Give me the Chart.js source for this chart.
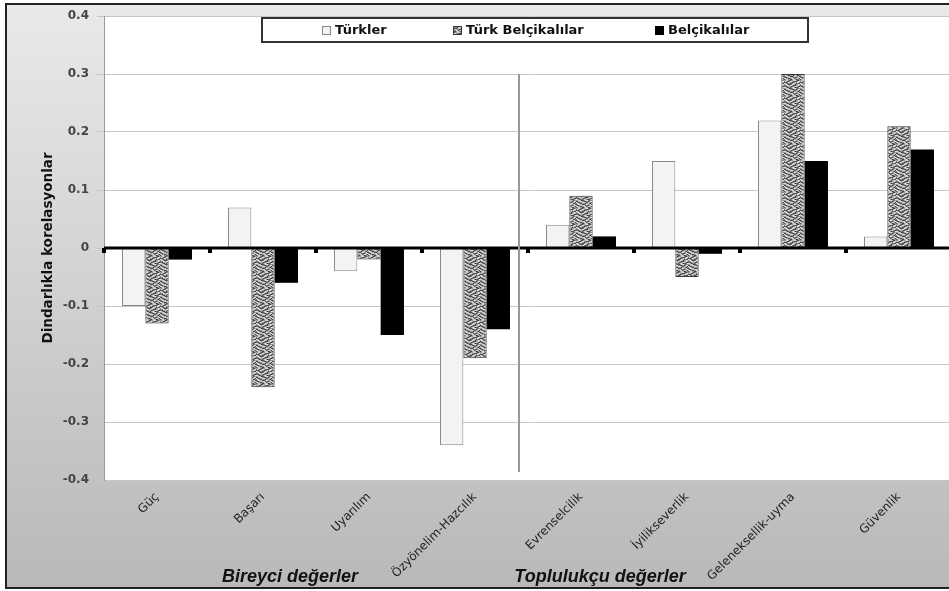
<!DOCTYPE html>
<html>
<head>
<title>Dindarlıkla korelasyonlar</title>
<script src="https://cdn.jsdelivr.net/npm/chart.js@4.4.1/dist/chart.umd.min.js"></script>
<style>
    body {
        margin: 0;
        overflow: hidden;
        background: #fff;
    }

    .frame {
        position: absolute;
        left: 5px;
        top: 3px;
        width: 960px;
        height: 582px;
        border: 2px solid #222;
        background: linear-gradient(#e9e9e9, #b9b9b9);
    }

    .chart {
        position: absolute;
        left: 0;
        top: 0;
        width: 960px;
        height: 591px;
    }
</style>
</head>
<body>
<div class="frame"></div>
<div class="chart">
    <canvas id="corr-chart"></canvas>
</div>

<script>
    const categories = ['Güç', 'Başarı', 'Uyarılım', 'Özyönelim-Hazcılık',
        'Evrenselcilik', 'İyilikseverlik', 'Geleneksellik-uyma', 'Güvenlik'];
    const seriesNames = ['Türkler', 'Türk Belçikalılar', 'Belçikalılar'];
    const turkler = [-0.10, 0.07, -0.04, -0.34, 0.04, 0.15, 0.22, 0.02];
    const turkBelcikalilar = [-0.13, -0.24, -0.02, -0.19, 0.09, -0.05, 0.30, 0.21];
    const belcikalilar = [-0.02, -0.06, -0.15, -0.14, 0.02, -0.01, 0.15, 0.17];
    const yTicks = [-0.4, -0.3, -0.2, -0.1, 0, 0.1, 0.2, 0.3, 0.4];
    const yTitle = 'Dindarlıkla korelasyonlar';
    const groupLabels = ['Bireyci değerler', 'Toplulukçu değerler'];

    // gri desen (Türk Belçikalılar) - sabit bir doku haritası
    const textureMap = [
        '1122100112221001',
        '1210012211000122',
        '0001221100121221',
        '2210110012210100',
        '1221000122101122',
        '0112212210001221',
        '1001121001122100',
        '2210010122100012',
        '1122100012221011',
        '0012221100110122',
        '2100112221001210',
        '1221001110122001',
        '0122120001221120',
        '1001221220100122',
        '2211001122012210',
        '0122110012210011'
    ];
    function makeTexture() {
        const c = document.createElement('canvas');
        c.width = 16;
        c.height = 16;
        const g = c.getContext('2d');
        const shades = ['#4a4a4a', '#979797', '#d6d6d6'];
        textureMap.forEach((row, yy) => {
            for (let xx = 0; xx < row.length; xx++) {
                g.fillStyle = shades[+row[xx]];
                g.fillRect(xx, yy, 1, 1);
            }
        });
        return g.createPattern(c, 'repeat');
    }
    const texture = makeTexture();

    const decor = {
        id: 'decor',
        beforeDraw(chart) {
            const {ctx, chartArea: a} = chart;
            ctx.save();
            ctx.fillStyle = '#fff';
            ctx.fillRect(a.left, a.top, a.right - a.left, a.bottom - a.top);
            ctx.restore();
        },
        afterDatasetsDraw(chart) {
            const {ctx, chartArea: a, scales: {y}} = chart;
            const y0 = y.getPixelForValue(0);
            const catW = (a.right - a.left) / categories.length;
            ctx.save();
            // sıfır çizgisi + küçük işaretler
            ctx.fillStyle = '#000';
            ctx.fillRect(a.left, y0 - 1.5, a.right - a.left, 3);
            for (let i = 0; i <= categories.length; i++) {
                ctx.fillRect(a.left + i * catW - 2, y0, 4, 5);
            }
            // bireyci / toplulukçu ayırıcı
            const sx = a.left + 4 * catW - 9;
            ctx.strokeStyle = '#999';
            ctx.lineWidth = 2;
            ctx.beginPath();
            ctx.moveTo(sx, y.getPixelForValue(0.3));
            ctx.lineTo(sx, a.bottom - 8);
            ctx.stroke();

            // lejant kutusu
            ctx.fillStyle = '#fff';
            ctx.fillRect(262, 18, 546, 24);
            ctx.strokeStyle = '#333';
            ctx.lineWidth = 2;
            ctx.strokeRect(262, 18, 546, 24);
            const markX = [322, 453, 655];
            ctx.font = 'bold 13px "DejaVu Sans"';
            ctx.textBaseline = 'middle';
            chart.data.datasets.forEach((ds, i) => {
                ctx.fillStyle = ds.backgroundColor;
                ctx.fillRect(markX[i], 26, 9, 9);
                ctx.strokeStyle = ds.borderColor;
                ctx.lineWidth = 1;
                ctx.strokeRect(markX[i] + 0.5, 26.5, 8, 8);
                ctx.fillStyle = '#111';
                ctx.fillText(ds.label, markX[i] + 13, 31);
            });

            // grup başlıkları
            ctx.font = 'italic bold 18px "Liberation Sans"';
            ctx.textAlign = 'center';
            ctx.fillStyle = '#111';
            ctx.fillText(groupLabels[0], 290, 577);
            ctx.fillText(groupLabels[1], 600, 577);
            ctx.restore();
        }
    };

    const ctx = document.getElementById('corr-chart').getContext('2d');
    const chart = new Chart(ctx, {
        type: 'bar',
        data: {
            labels: categories,
            datasets: [{
                label: seriesNames[0],
                data: turkler,
                backgroundColor: '#f3f3f5',
                borderColor: '#888',
                borderWidth: 1
            }, {
                label: seriesNames[1],
                data: turkBelcikalilar,
                backgroundColor: texture,
                borderColor: '#3a3a3a',
                borderWidth: 1
            }, {
                label: seriesNames[2],
                data: belcikalilar,
                backgroundColor: '#000',
                borderColor: '#000',
                borderWidth: 0
            }]
        },
        options: {
            responsive: true,
            maintainAspectRatio: false,
            animation: false,
            layout: {
                padding: {top: 16, right: 8, bottom: 0, left: 0}
            },
            datasets: {
                bar: {
                    categoryPercentage: 0.66,
                    barPercentage: 1
                }
            },
            plugins: {
                legend: {display: false},
                tooltip: {enabled: false}
            },
            scales: {
                x: {
                    grid: {display: false, drawTicks: false},
                    border: {display: false},
                    ticks: {
                        autoSkip: false,
                        minRotation: 45,
                        maxRotation: 45,
                        padding: 10,
                        color: '#222',
                        font: {family: 'DejaVu Sans', size: 12}
                    },
                    afterFit(s) {
                        s.height = 111;
                    }
                },
                y: {
                    min: -0.4,
                    max: 0.4,
                    afterBuildTicks(s) {
                        s.ticks = yTicks.map(v => ({value: v}));
                    },
                    grid: {
                        color: '#c6c6c6',
                        lineWidth: 1,
                        tickLength: 7
                    },
                    border: {color: '#9a9a9a'},
                    ticks: {
                        padding: 8,
                        color: '#444',
                        font: {family: 'DejaVu Sans', size: 12, weight: 'bold'},
                        callback: v => v === 0 ? '0' : v.toFixed(1)
                    },
                    title: {
                        display: true,
                        text: yTitle,
                        color: '#111',
                        font: {family: 'DejaVu Sans', size: 13.5, weight: 'bold'},
                        padding: {top: 40, bottom: 0}
                    },
                    afterFit(s) {
                        s.width = 104;
                    }
                }
            }
        },
        plugins: [decor]
    });
</script>
</body>
</html>
